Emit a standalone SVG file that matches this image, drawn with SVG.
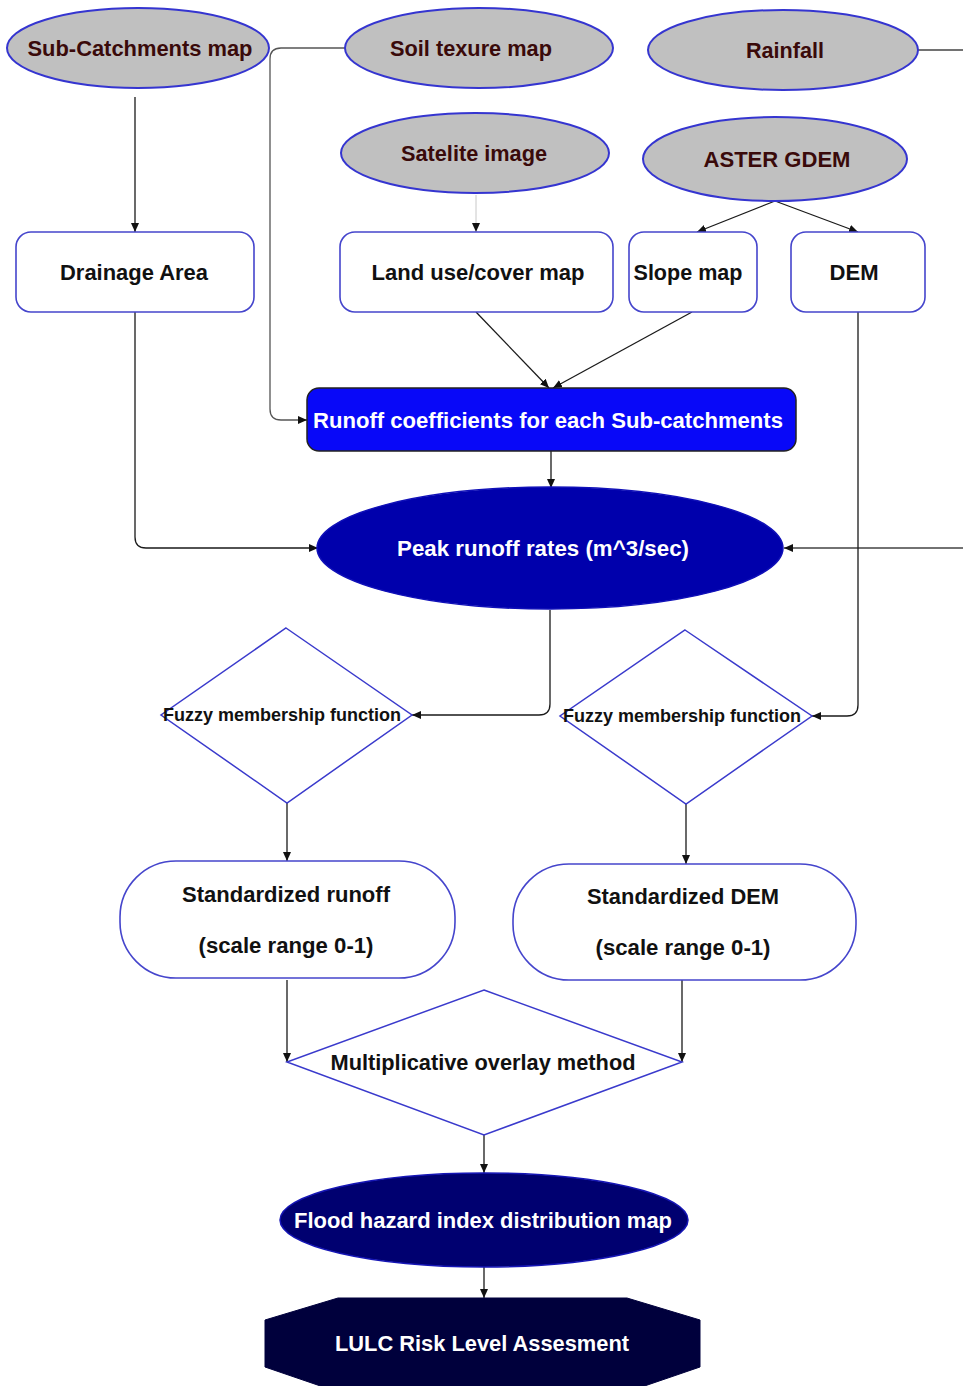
<svg xmlns="http://www.w3.org/2000/svg" width="963" height="1386" viewBox="0 0 963 1386">
<style>
  .src ellipse { fill: #c0c0c0; stroke: #3535d0; stroke-width: 2; }
  .src text { fill: #3a0a0a; }
  .box rect { fill: #ffffff; stroke: #4545cc; stroke-width: 1.6; }
  .dia polygon { fill: #ffffff; stroke: #3a3acc; stroke-width: 1.5; }
  text { font-family: "Liberation Sans", Arial, sans-serif; font-weight: bold; text-anchor: middle; dominant-baseline: central; }
  .dark { fill: #111111; }
  .white { fill: #ffffff; }
  .conn path { fill: none; stroke: #1a1a1a; stroke-width: 1.3; marker-end: url(#arr); }
</style>
<defs>
  <marker id="arr" markerUnits="userSpaceOnUse" markerWidth="10" markerHeight="8" refX="9" refY="4" orient="auto">
    <path d="M0,0 L9,4 L0,8 z" fill="#111111"/>
  </marker>
</defs>
<rect x="0" y="0" width="963" height="1386" fill="#ffffff"/>

<g id="connectors" class="conn">
  <path d="M135,97 V232"/>
  <path d="M476,195 V232" style="stroke:#c8c8c8;stroke-width:1"/>
  <path d="M775,201 L697,232"/>
  <path d="M775,201 L858,232"/>
  <path d="M345,48 H281 Q270,48 270,59 V409 Q270,420 281,420 H307" style="stroke:#555555"/>
  <path d="M476,312 L549,388"/>
  <path d="M692,312 L553,388"/>
  <path d="M551,451 V488"/>
  <path d="M135,312 V537 Q135,548 146,548 H318"/>
  <path d="M918,50 H964 V548 H784" style="stroke:#444444"/>
  <path d="M858,312 V705 Q858,716 847,716 H812"/>
  <path d="M550,610 V704 Q550,715 539,715 H412"/>
  <path d="M287,803 V861"/>
  <path d="M686,804 V864"/>
  <path d="M287,980 V1062"/>
  <path d="M682,980 V1062"/>
  <path d="M484,1135 V1173"/>
  <path d="M484,1267 V1298"/>
</g>

<g id="sub-catchments" class="src">
  <ellipse cx="138" cy="48" rx="131" ry="40"/>
  <text x="140" y="48" font-size="22" textLength="225" lengthAdjust="spacingAndGlyphs">Sub-Catchments map</text>
</g>
<g id="soil" class="src">
  <ellipse cx="479" cy="48" rx="134" ry="40"/>
  <text x="471" y="48" font-size="22" textLength="162" lengthAdjust="spacingAndGlyphs">Soil texure map</text>
</g>
<g id="rainfall" class="src">
  <ellipse cx="783" cy="50" rx="135" ry="40"/>
  <text x="785" y="50" font-size="22" textLength="78" lengthAdjust="spacingAndGlyphs">Rainfall</text>
</g>
<g id="satelite" class="src">
  <ellipse cx="475" cy="153" rx="134" ry="40"/>
  <text x="474" y="153" font-size="22" textLength="146" lengthAdjust="spacingAndGlyphs">Satelite image</text>
</g>
<g id="aster" class="src">
  <ellipse cx="775" cy="159" rx="132" ry="42"/>
  <text x="777" y="159" font-size="22" textLength="147" lengthAdjust="spacingAndGlyphs">ASTER GDEM</text>
</g>

<g id="drainage" class="box">
  <rect x="16" y="232" width="238" height="80" rx="15"/>
  <text class="dark" x="134" y="272" font-size="22" textLength="148" lengthAdjust="spacingAndGlyphs">Drainage Area</text>
</g>
<g id="landuse" class="box">
  <rect x="340" y="232" width="273" height="80" rx="15"/>
  <text class="dark" x="478" y="272" font-size="22" textLength="213" lengthAdjust="spacingAndGlyphs">Land use/cover map</text>
</g>
<g id="slope" class="box">
  <rect x="629" y="232" width="128" height="80" rx="15"/>
  <text class="dark" x="688" y="272" font-size="22" textLength="109" lengthAdjust="spacingAndGlyphs">Slope map</text>
</g>
<g id="dem" class="box">
  <rect x="791" y="232" width="134" height="80" rx="15"/>
  <text class="dark" x="854" y="272" font-size="22" textLength="49" lengthAdjust="spacingAndGlyphs">DEM</text>
</g>

<g id="runoff-coeff">
  <rect x="307" y="388" width="489" height="63" rx="12" fill="#0808f8" stroke="#222222" stroke-width="1.5"/>
  <text class="white" x="548" y="420" font-size="22" textLength="470" lengthAdjust="spacingAndGlyphs">Runoff coefficients for each Sub-catchments</text>
</g>

<g id="peak-runoff">
  <ellipse cx="550" cy="548" rx="233" ry="61" fill="#0000ac" stroke="#1010b8" stroke-width="1.5"/>
  <text class="white" x="543" y="548" font-size="22" textLength="292" lengthAdjust="spacingAndGlyphs">Peak runoff rates (m^3/sec)</text>
</g>

<g id="fuzzy-left" class="dia">
  <polygon points="286,628 412,715 287,803 161,715"/>
  <text class="dark" x="282" y="715" font-size="18" textLength="238" lengthAdjust="spacingAndGlyphs">Fuzzy membership function</text>
</g>
<g id="fuzzy-right" class="dia">
  <polygon points="685,630 812,716 686,804 560,716"/>
  <text class="dark" x="682" y="716" font-size="18" textLength="238" lengthAdjust="spacingAndGlyphs">Fuzzy membership function</text>
</g>

<g id="std-runoff" class="box">
  <rect x="120" y="861" width="335" height="117" rx="56" ry="56"/>
  <text class="dark" x="286" y="894" font-size="22" textLength="208" lengthAdjust="spacingAndGlyphs">Standardized runoff</text>
  <text class="dark" x="286" y="945" font-size="22" textLength="175" lengthAdjust="spacingAndGlyphs">(scale range 0-1)</text>
</g>
<g id="std-dem" class="box">
  <rect x="513" y="864" width="343" height="116" rx="56" ry="56"/>
  <text class="dark" x="683" y="896" font-size="22" textLength="192" lengthAdjust="spacingAndGlyphs">Standardized DEM</text>
  <text class="dark" x="683" y="947" font-size="22" textLength="175" lengthAdjust="spacingAndGlyphs">(scale range 0-1)</text>
</g>

<g id="multiplicative" class="dia">
  <polygon points="484,990 682,1062 484,1135 287,1062"/>
  <text class="dark" x="483" y="1062" font-size="22" textLength="305" lengthAdjust="spacingAndGlyphs">Multiplicative overlay method</text>
</g>

<g id="flood-hazard">
  <ellipse cx="484" cy="1220" rx="204" ry="47" fill="#000070" stroke="#1515b5" stroke-width="1.5"/>
  <text class="white" x="483" y="1220" font-size="22" textLength="378" lengthAdjust="spacingAndGlyphs">Flood hazard index distribution map</text>
</g>

<g id="lulc-risk">
  <polygon points="338,1298 627,1298 700,1320 700,1367 627,1392 338,1392 265,1367 265,1320" fill="#00003c" stroke="#00003c" stroke-width="1"/>
  <text class="white" x="482" y="1343" font-size="22" textLength="294" lengthAdjust="spacingAndGlyphs">LULC Risk Level Assesment</text>
</g>
</svg>
